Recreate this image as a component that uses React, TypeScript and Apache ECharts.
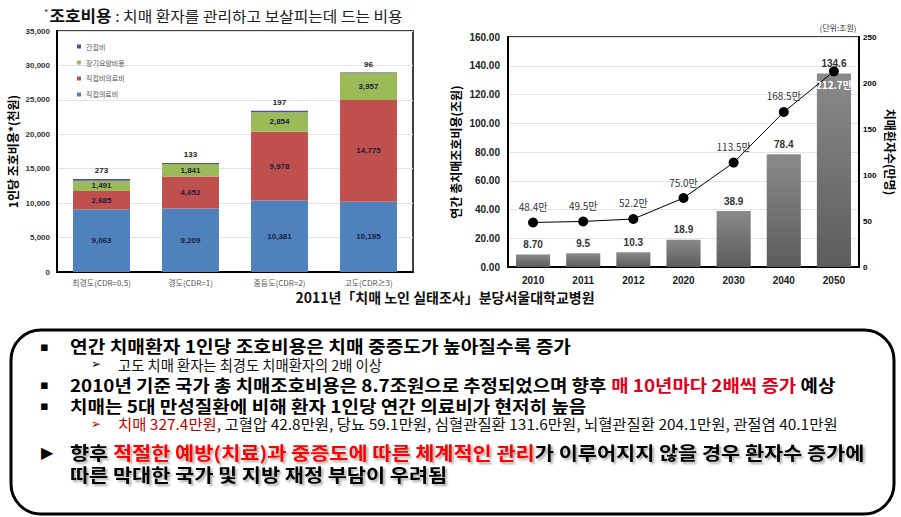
import React, { useEffect, useRef } from "react";
import * as echarts from "echarts";

// ---------- Left chart data ----------
const severityCats = ["최경도(CDR=0.5)", "경도(CDR=1)", "중등도(CDR=2)", "고도(CDR≥3)"];
const directMedical = [9063, 9209, 10381, 10195];
const directNonMedical = [2685, 4652, 9978, 14775];
const longTermCare = [1491, 1841, 2854, 3957];
const indirectCost = [273, 133, 197, 96];
const leftSeriesNames = ["직접의료비", "직접비의료비", "장기요양비용", "간접비"];

// ---------- Right chart data ----------
const years = ["2010", "2011", "2012", "2020", "2030", "2040", "2050"];
const totalCost = [8.7, 9.5, 10.3, 18.9, 38.9, 78.4, 134.6];
const totalCostLabels = ["8.70", "9.5", "10.3", "18.9", "38.9", "78.4", "134.6"];
const patients = [48.4, 49.5, 52.2, 75.0, 113.5, 168.5, 212.7];

const CJK = '"Noto Sans CJK KR", "Noto Sans", sans-serif';
const LAT = '"Liberation Sans", Arial, sans-serif';

const fmtComma = (v: number) => v.toLocaleString("en-US");

function buildOption(): any {
  const leftColors = ["#4F81BD", "#C0504D", "#9BBB59", "#4F4F9F"];
  const leftData = [directMedical, directNonMedical, longTermCare, indirectCost];
  const leftSeries = leftData.map((d, i) => ({
    name: leftSeriesNames[i],
    type: "bar",
    stack: "care",
    xAxisIndex: 0,
    yAxisIndex: 0,
    barWidth: "64%",
    data: d,
    itemStyle: { color: leftColors[i] },
    label: {
      show: true,
      position: i === 3 ? "top" : "inside",
      distance: 4,
      formatter: (p: any) => fmtComma(p.value),
      fontSize: 8,
      fontWeight: "bold",
      fontFamily: LAT,
      color: i === 3 ? "#222" : "#1c1c3c",
    },
  }));

  const last = patients.length - 1;

  const bodyRich = {
    b: { fontSize: 17, lineHeight: 17, fontWeight: "bold", fill: "#000", fontFamily: CJK },
    r: { fontSize: 17, lineHeight: 17, fontWeight: "bold", fill: "#e0001b", fontFamily: CJK },
    n: { fontSize: 14.3, lineHeight: 14, fill: "#111", fontFamily: CJK },
    n2: { fontSize: 14.3, lineHeight: 14, fill: "#111", fontFamily: CJK },
    nr2: { fontSize: 14.3, lineHeight: 14, fill: "#c00000", fontFamily: CJK },
  };
  const shadow = {
    textShadowColor: "rgba(0,0,0,0.35)",
    textShadowBlur: 2,
    textShadowOffsetX: 2,
    textShadowOffsetY: 2,
  };
  const concRich = {
    b: { fontSize: 18, lineHeight: 18, fontWeight: "bold", fill: "#000", fontFamily: CJK, ...shadow },
    r: { fontSize: 18, lineHeight: 18, fontWeight: "bold", fill: "#ff0000", fontFamily: CJK, ...shadow },
  };

  const txt = (x: number, y: number, text: string, rich: any, scaleX = 1) => ({
    type: "text",
    x,
    y,
    scaleX,
    style: { text, rich, verticalAlign: "middle", align: "left" },
  });

  const bullet = (x: number, y: number, ch: string, size: number, fill = "#000") => ({
    type: "text",
    x,
    y,
    style: {
      text: ch,
      fontSize: size,
      lineHeight: size,
      fill,
      fontFamily: '"DejaVu Sans", sans-serif',
      verticalAlign: "middle",
      align: "left",
    },
  });

  return {
    animation: false,
    backgroundColor: "#fff",
    textStyle: { fontFamily: CJK },
    legend: {
      data: ["간접비", "장기요양비용", "직접비의료비", "직접의료비"],
      orient: "vertical",
      left: 72,
      top: 38,
      itemWidth: 4,
      itemHeight: 4,
      itemGap: 9,
      icon: "rect",
      selectedMode: false,
      textStyle: { fontSize: 7, color: "#555", fontFamily: CJK },
    },
    grid: [
      { left: 57, top: 31, width: 356, height: 241, show: true, borderColor: "#000", borderWidth: 1.5 },
      { left: 508, top: 37, width: 351, height: 230, show: true, borderColor: "#000", borderWidth: 1.5 },
    ],
    xAxis: [
      {
        gridIndex: 0,
        type: "category",
        data: severityCats,
        axisLine: { lineStyle: { color: "#000", width: 2 } },
        axisTick: { show: false },
        axisLabel: { fontSize: 8, color: "#555", margin: 6, fontFamily: CJK },
      },
      {
        gridIndex: 1,
        type: "category",
        data: years,
        axisLine: { lineStyle: { color: "#000", width: 2 } },
        axisTick: { show: false },
        axisLabel: { fontSize: 10, fontWeight: "bold", color: "#222", margin: 8, fontFamily: LAT },
      },
    ],
    yAxis: [
      {
        gridIndex: 0,
        type: "value",
        min: 0,
        max: 35000,
        interval: 5000,
        axisLine: { show: true, lineStyle: { color: "#000", width: 2 } },
        axisTick: { show: false },
        axisLabel: { fontSize: 8, fontWeight: "bold", color: "#333", margin: 7, fontFamily: LAT, formatter: (v: number) => fmtComma(v) },
        splitLine: { lineStyle: { color: "#e3e3e3" } },
        name: "1인당 조호비용*(천원)",
        nameLocation: "middle",
        nameGap: 39,
        nameTextStyle: { fontSize: 12, fontWeight: "bold", color: "#000", fontFamily: CJK },
      },
      {
        gridIndex: 1,
        type: "value",
        min: 0,
        max: 160,
        interval: 20,
        axisLine: { show: true, lineStyle: { color: "#000", width: 2 } },
        axisTick: { show: false },
        axisLabel: { fontSize: 10, fontWeight: "bold", color: "#222", margin: 8, fontFamily: LAT, formatter: (v: number) => v.toFixed(2) },
        splitLine: { lineStyle: { color: "#e3e3e3" } },
        name: "연간 총치매조호비용(조원)",
        nameLocation: "middle",
        nameGap: 47,
        nameTextStyle: { fontSize: 12, fontWeight: "bold", color: "#000", fontFamily: CJK },
      },
      {
        gridIndex: 1,
        type: "value",
        position: "right",
        min: 0,
        max: 250,
        interval: 50,
        axisLine: { show: true, lineStyle: { color: "#000", width: 2 } },
        axisTick: { show: false },
        axisLabel: { fontSize: 8, fontWeight: "bold", color: "#000", margin: 4, fontFamily: LAT },
        splitLine: { show: false },
        name: "치매환자수(만명)",
        nameLocation: "middle",
        nameRotate: -90,
        nameGap: 25,
        nameTextStyle: { fontSize: 12, fontWeight: "bold", color: "#000", fontFamily: CJK },
      },
    ],
    series: [
      ...leftSeries,
      {
        name: "총치매조호비용",
        type: "bar",
        xAxisIndex: 1,
        yAxisIndex: 1,
        barWidth: "68%",
        data: totalCost,
        itemStyle: {
          color: new echarts.graphic.LinearGradient(0, 0, 0, 1, [
            { offset: 0, color: "#8a8a8a" },
            { offset: 1, color: "#5c5c5c" },
          ]),
        },
        label: {
          show: true,
          position: "top",
          distance: 5,
          formatter: (p: any) => totalCostLabels[p.dataIndex],
          fontSize: 10,
          fontWeight: "bold",
          color: "#333",
          fontFamily: LAT,
        },
      },
      {
        name: "치매환자수",
        type: "line",
        xAxisIndex: 1,
        yAxisIndex: 2,
        z: 5,
        symbol: "circle",
        symbolSize: 10,
        itemStyle: { color: "#000" },
        lineStyle: { color: "#000", width: 1 },
        data: patients.map((v, i) =>
          i === last
            ? { value: v, label: { position: "bottom", color: "#fff", fontWeight: "bold", distance: 3 } }
            : v
        ),
        label: {
          show: true,
          position: "top",
          distance: 6,
          formatter: (p: any) => `${Number(p.value).toFixed(1)}만`,
          fontSize: 10,
          color: "#333",
          fontFamily: CJK,
        },
      },
    ],
    graphic: [
      // title of left chart
      txt(
        44,
        15,
        "{s|*}{b|조호비용}{n| : 치매 환자를 관리하고 보살피는데 드는 비용}",
        {
          s: { fontSize: 9, fill: "#333", fontFamily: CJK, padding: [0, 1, 6, 0] },
          b: { fontSize: 16, lineHeight: 16, fontWeight: "bold", fill: "#111", fontFamily: CJK },
          n: { fontSize: 15, lineHeight: 16, fill: "#222", fontFamily: CJK },
        },
        1.055
      ),
      // unit label
      {
        type: "text",
        x: 838,
        y: 27,
        style: { text: "(단위:조원)", fontSize: 8, fill: "#333", fontFamily: CJK, align: "center", verticalAlign: "middle" },
      },
      // source
      {
        type: "text",
        x: 445,
        y: 297,
        style: {
          text: "2011년「치매 노인 실태조사」분당서울대학교병원",
          fontSize: 14,
          fontWeight: "bold",
          fill: "#111",
          fontFamily: CJK,
          align: "center",
          verticalAlign: "middle",
        },
      },
      // rounded box
      {
        type: "rect",
        shape: { x: 11, y: 330, width: 883, height: 184, r: 30 },
        style: { fill: "#fff", stroke: "#000", lineWidth: 3 },
        z: -1,
      },
      bullet(40, 346, "▪", 13),
      txt(70, 346, "{b|연간 치매환자 1인당 조호비용은 치매 중증도가 높아질수록 증가}", bodyRich, 1.13),
      bullet(91, 364, "➢", 12),
      txt(118, 364, "{n|고도 치매 환자는 최경도 치매환자의 2배 이상}", bodyRich),
      bullet(40, 384, "▪", 13),
      txt(70, 384, "{b|2010년 기준 국가 총 치매조호비용은 8.7조원으로 추정되었으며 향후 }{r|매 10년마다 2배씩 증가}{b| 예상}", bodyRich, 1.11),
      bullet(40, 405, "▪", 13),
      txt(70, 405, "{b|치매는 5대 만성질환에 비해 환자 1인당 연간 의료비가 현저히 높음}", bodyRich, 1.12),
      bullet(91, 424, "➢", 12, "#c00000"),
      txt(
        118,
        424,
        "{nr2|치매 327.4만원}{n2|, 고혈압 42.8만원, 당뇨 59.1만원, 심혈관질환 131.6만원, 뇌혈관질환 204.1만원, 관절염 40.1만원}",
        bodyRich,
        1.08
      ),
      bullet(41, 452, "▶", 16),
      txt(70, 452, "{b|향후 }{r|적절한 예방(치료)과 중증도에 따른 체계적인 관리}{b|가 이루어지지 않을 경우 환자수 증가에}", concRich, 1.155),
      txt(70, 474, "{b|따른 막대한 국가 및 지방 재정 부담이 우려됨}", concRich, 1.155),
    ],
  };
}

export default function App() {
  const ref = useRef<HTMLDivElement>(null);
  useEffect(() => {
    if (!ref.current) return;
    const chart = echarts.init(ref.current, null, { renderer: "svg" });
    chart.setOption(buildOption());
    return () => chart.dispose();
  }, []);
  return (
    <div
      ref={ref}
      style={{ position: "absolute", left: 0, top: 0, width: 901, height: 517, background: "#fff" }}
    />
  );
}
